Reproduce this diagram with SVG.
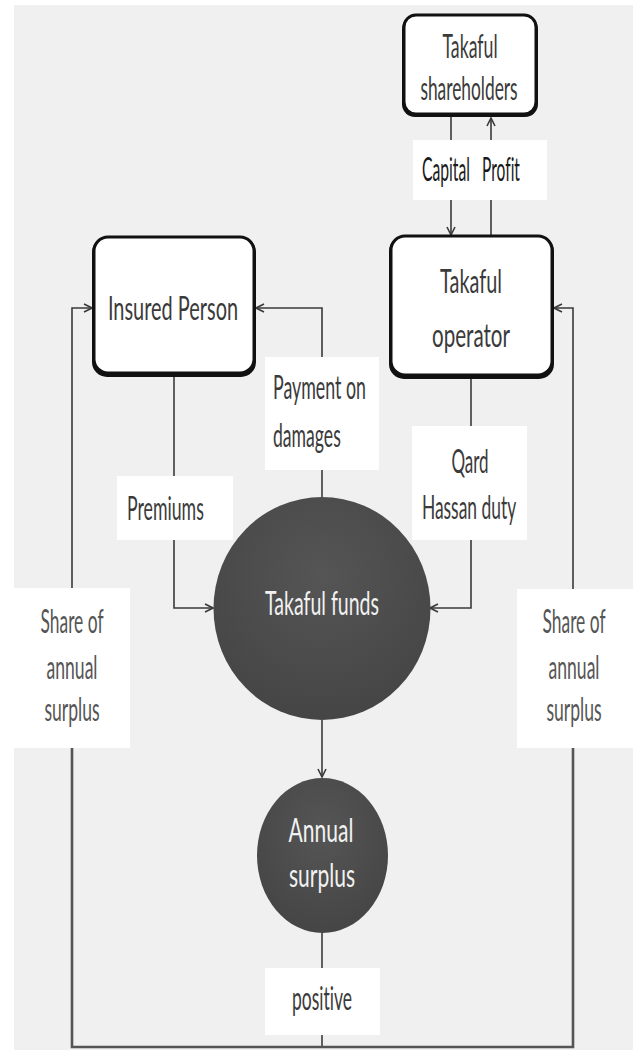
<svg xmlns="http://www.w3.org/2000/svg" width="633" height="1050" viewBox="0 0 633 1050">
  <style>
    .node { fill: #ffffff; stroke: #111111; stroke-width: 3; }
    .shadow { fill: #111111; }
    .label { fill: #ffffff; }
    .wire { fill: none; stroke: #3a3a3a; stroke-width: 1.6; }
    .loop { fill: none; stroke: #555555; stroke-width: 2.6; }
    text { font-family: Lato, "Open Sans", "Liberation Sans", sans-serif; font-size: 32px; fill: #3a3a3a; font-variant-ligatures: none; }
    .mid { text-anchor: middle; }
    .light { fill: #555555; }
    .dark { fill: #1a1a1a; }
    .inv { fill: #f2f2f2; }
  </style>
  <defs>
    <marker id="arrow" viewBox="0 0 10 10" refX="9" refY="5" markerWidth="10" markerHeight="10" markerUnits="userSpaceOnUse" orient="auto">
      <path d="M1,1 L9,5 L1,9" fill="none" stroke="#3a3a3a" stroke-width="1.6"/>
    </marker>
    <radialGradient id="fund" cx="50%" cy="35%" r="70%">
      <stop offset="0" stop-color="#555555"/>
      <stop offset="1" stop-color="#444444"/>
    </radialGradient>
  </defs>

  <!-- canvas -->
  <rect x="14" y="5" width="619" height="1045" fill="#f0f0f0"/>

  <!-- connectors -->
  <g id="connectors">
    <!-- capital down / profit up -->
    <path class="wire" d="M451,117 V140"/>
    <path class="wire" d="M451,200 V235" marker-end="url(#arrow)"/>
    <path class="wire" d="M491,235 V200"/>
    <path class="wire" d="M491,140 V118" marker-end="url(#arrow)"/>
    <!-- premiums -->
    <path class="wire" d="M174,377 V476"/>
    <path class="wire" d="M174,540 V608 H213" marker-end="url(#arrow)"/>
    <!-- qard hassan -->
    <path class="wire" d="M471,379 V426"/>
    <path class="wire" d="M471,540 V608 H430" marker-end="url(#arrow)"/>
    <!-- payment on damages -->
    <path class="wire" d="M322,497 V470"/>
    <path class="wire" d="M322,357 V308 H256" marker-end="url(#arrow)"/>
    <!-- funds to surplus -->
    <path class="wire" d="M322,720 V777" marker-end="url(#arrow)"/>
    <path class="wire" d="M322,933 V968"/>
    <path class="wire" d="M322,1035 V1047"/>
    <!-- surplus share loops -->
    <path class="loop" d="M72,748 V1047 H573 V748"/>
    <path class="wire" d="M72,588 V308 H92" marker-end="url(#arrow)"/>
    <path class="wire" d="M573,589 V308 H554" marker-end="url(#arrow)"/>
  </g>

  <!-- edge labels (narrow lettering: horizontal scale 0.6) -->
  <g id="label-capital-profit">
    <rect class="label" x="413" y="140" width="134" height="60"/>
    <text class="mid dark" transform="translate(446,181) scale(0.6,1)" textLength="80" lengthAdjust="spacingAndGlyphs" font-size="30">Capital</text>
    <text class="mid dark" transform="translate(501,181) scale(0.6,1)" textLength="63" lengthAdjust="spacingAndGlyphs" font-size="30">Profit</text>
  </g>
  <g id="label-payment">
    <rect class="label" x="265" y="357" width="114" height="113"/>
    <text transform="translate(273,399) scale(0.6,1)" textLength="155" lengthAdjust="spacingAndGlyphs" font-size="30">Payment on</text>
    <text transform="translate(273,447) scale(0.6,1)" textLength="113" lengthAdjust="spacingAndGlyphs" font-size="30">damages</text>
  </g>
  <g id="label-premiums">
    <rect class="label" x="117" y="476" width="116" height="64"/>
    <text transform="translate(127,520) scale(0.6,1)" textLength="128" lengthAdjust="spacingAndGlyphs" font-size="32">Premiums</text>
  </g>
  <g id="label-qard">
    <rect class="label" x="412" y="426" width="115" height="114"/>
    <text class="mid" transform="translate(470,473) scale(0.6,1)" textLength="62" lengthAdjust="spacingAndGlyphs" font-size="32">Qard</text>
    <text class="mid" transform="translate(469,519) scale(0.6,1)" textLength="157" lengthAdjust="spacingAndGlyphs" font-size="32">Hassan duty</text>
  </g>
  <g id="label-share-left">
    <rect class="label" x="14" y="588" width="116" height="160"/>
    <text class="mid light" transform="translate(72,633) scale(0.6,1)" textLength="105" lengthAdjust="spacingAndGlyphs" font-size="30">Share of</text>
    <text class="mid light" transform="translate(72,679) scale(0.6,1)" textLength="85" lengthAdjust="spacingAndGlyphs" font-size="30">annual</text>
    <text class="mid light" transform="translate(72,721) scale(0.6,1)" textLength="92" lengthAdjust="spacingAndGlyphs" font-size="30">surplus</text>
  </g>
  <g id="label-share-right">
    <rect class="label" x="517" y="589" width="116" height="159"/>
    <text class="mid light" transform="translate(574,633) scale(0.6,1)" textLength="105" lengthAdjust="spacingAndGlyphs" font-size="30">Share of</text>
    <text class="mid light" transform="translate(574,679) scale(0.6,1)" textLength="85" lengthAdjust="spacingAndGlyphs" font-size="30">annual</text>
    <text class="mid light" transform="translate(574,721) scale(0.6,1)" textLength="92" lengthAdjust="spacingAndGlyphs" font-size="30">surplus</text>
  </g>
  <g id="label-positive">
    <rect class="label" x="265" y="968" width="115" height="67"/>
    <text class="mid" transform="translate(322,1010) scale(0.6,1)" textLength="100" lengthAdjust="spacingAndGlyphs" font-size="30">positive</text>
  </g>

  <!-- nodes -->
  <g id="node-shareholders">
    <rect class="shadow" x="402" y="16" width="136" height="101" rx="13"/>
    <rect class="node" x="404" y="15" width="132" height="99" rx="12"/>
    <text class="mid" transform="translate(470,58) scale(0.6,1)" textLength="92" lengthAdjust="spacingAndGlyphs" font-size="30">Takaful</text>
    <text class="mid" transform="translate(469,100) scale(0.6,1)" textLength="162" lengthAdjust="spacingAndGlyphs" font-size="30">shareholders</text>
  </g>
  <g id="node-insured">
    <rect class="shadow" x="92" y="237" width="164" height="140" rx="15"/>
    <rect class="node" x="94" y="237" width="160" height="136" rx="14"/>
    <text class="mid" transform="translate(173,320) scale(0.6,1)" textLength="217" lengthAdjust="spacingAndGlyphs" font-size="34">Insured Person</text>
  </g>
  <g id="node-operator">
    <rect class="shadow" x="389" y="236" width="165" height="143" rx="15"/>
    <rect class="node" x="391" y="236" width="161" height="139" rx="14"/>
    <text class="mid" transform="translate(471,293) scale(0.6,1)" textLength="103" lengthAdjust="spacingAndGlyphs" font-size="34">Takaful</text>
    <text class="mid" transform="translate(471,347) scale(0.6,1)" textLength="130" lengthAdjust="spacingAndGlyphs" font-size="34">operator</text>
  </g>
  <g id="node-funds">
    <ellipse cx="322" cy="608.5" rx="108.5" ry="111.5" fill="url(#fund)"/>
    <text class="mid inv" transform="translate(322,615) scale(0.6,1)" textLength="190" lengthAdjust="spacingAndGlyphs" font-size="32">Takaful funds</text>
  </g>
  <g id="node-surplus">
    <ellipse cx="322.5" cy="855.5" rx="65.5" ry="77.5" fill="url(#fund)"/>
    <text class="mid inv" transform="translate(321,842) scale(0.6,1)" textLength="108" lengthAdjust="spacingAndGlyphs" font-size="32">Annual</text>
    <text class="mid inv" transform="translate(322,887) scale(0.6,1)" textLength="110" lengthAdjust="spacingAndGlyphs" font-size="32">surplus</text>
  </g>
</svg>
